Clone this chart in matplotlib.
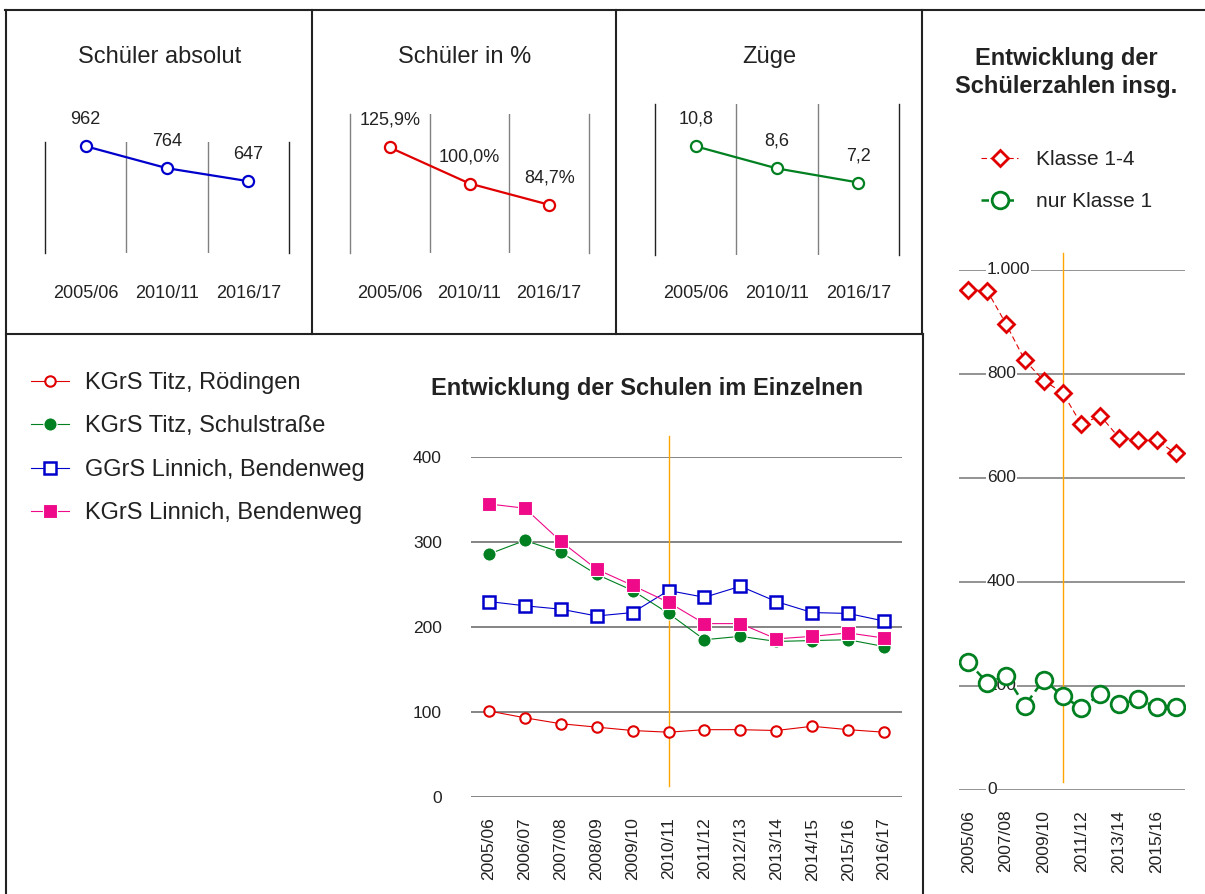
import matplotlib
matplotlib.use("Agg")
import matplotlib.pyplot as plt
from matplotlib.lines import Line2D

plt.rcParams['font.family'] = ['Liberation Sans', 'DejaVu Sans']
plt.rcParams['text.color'] = '#222222'
plt.rcParams['xtick.color'] = '#222222'
plt.rcParams['ytick.color'] = '#222222'

# Schuljahre
years = ['2005/06', '2006/07', '2007/08', '2008/09', '2009/10', '2010/11',
         '2011/12', '2012/13', '2013/14', '2014/15', '2015/16', '2016/17']

# Schulen im Einzelnen
schools = ['KGrS Titz, Rödingen', 'KGrS Titz, Schulstraße',
           'GGrS Linnich, Bendenweg', 'KGrS Linnich, Bendenweg']
roedingen = [101, 93, 86, 82, 78, 76, 79, 79, 78, 83, 79, 76]
schulstrasse = [286, 302, 288, 262, 243, 216, 185, 189, 183, 184, 185, 177]
ggrs_linnich = [230, 225, 221, 213, 217, 243, 235, 248, 230, 217, 216, 207]
kgrs_linnich = [345, 340, 301, 268, 249, 229, 204, 204, 186, 189, 193, 187]

# Schülerzahlen insgesamt
klasse_1_4 = [962, 960, 896, 826, 787, 764, 703, 720, 677, 673, 673, 647]
nur_klasse_1 = [245, 206, 219, 162, 212, 180, 157, 184, 164, 174, 159, 159]

# Kennzahlen oben
key_years = ['2005/06', '2010/11', '2016/17']
schueler_abs = [962, 764, 647]
schueler_pct = [125.9, 100.0, 84.7]
zuege = [10.8, 8.6, 7.2]

ref_year = '2010/11'

W, H = 1205, 894
fig = plt.figure(figsize=(W / 100, H / 100), dpi=100)


def box(l, t, r, b):
    return [l / W, 1 - b / H, (r - l) / W, (b - t) / H]


def fline(x0, y0, x1, y1):
    fig.add_artist(Line2D([x0 / W, x1 / W], [1 - y0 / H, 1 - y1 / H],
                          transform=fig.transFigure, color='#222222', lw=1.5))


# Rahmen
fline(5, 10, 1205, 10)
fline(6, 10, 6, 894)
fline(312, 10, 312, 334)
fline(616, 10, 616, 334)
fline(922, 10, 922, 334)
fline(923, 334, 923, 894)
fline(6, 334, 923, 334)


# --- drei kleine Diagramme oben ---
def small_panel(rect, values, labels, ylim, color, title, title_x, pad, spine_color):
    ax = fig.add_axes(box(*rect))
    x = range(len(values))
    ax.plot(x, values, color=color, lw=1.6, marker='o', ms=8, mfc='white',
            mec=color, mew=1.6, clip_on=False)
    for i, (v, lab) in enumerate(zip(values, labels)):
        ax.annotate(lab, (i, v), xytext=(0, 27), textcoords='offset pixels',
                    ha='center', va='center', fontsize=13)
    ax.set_xlim(-0.5, 2.5)
    ax.set_ylim(*ylim)
    ax.set_yticks([])
    ax.set_xticks(list(x))
    ax.set_xticklabels(key_years, fontsize=13)
    ax.set_xticks([0.5, 1.5], minor=True)
    ax.tick_params(axis='x', which='both', length=0, pad=pad)
    ax.grid(axis='x', which='minor', color='#808080', lw=1)
    for s in ['top', 'bottom']:
        ax.spines[s].set_visible(False)
    for s in ['left', 'right']:
        ax.spines[s].set_color(spine_color)
        ax.spines[s].set_linewidth(1)
    ax.patch.set_alpha(0)
    fig.text(title_x / W, 1 - 57 / H, title, ha='center', va='center', fontsize=17)
    return ax


small_panel((45, 142, 289, 253), schueler_abs, [str(v) for v in schueler_abs],
            (0, 1000), '#0000CC', 'Schüler absolut', 160, 23, '#222222')
small_panel((350, 114, 589, 253), schueler_pct,
            [f'{v:.1f}%'.replace('.', ',') for v in schueler_pct],
            (50, 150), '#E00000', 'Schüler in %', 465, 23, '#808080')
small_panel((655, 104, 899, 255), zuege, [f'{v:.1f}'.replace('.', ',') for v in zuege],
            (0, 15), '#008020', 'Züge', 769, 21.5, '#222222')

# --- Entwicklung der Schulen im Einzelnen ---
ax = fig.add_axes(box(471, 457.3, 902, 796.7))
x = range(len(years))
ax.plot(x, roedingen, color='#E00000', lw=0.8, marker='o', ms=7.5,
        mfc='white', mec='#E00000', mew=1.5, label=schools[0])
ax.plot(x, schulstrasse, color='#008020', lw=0.8, marker='o', ms=9.5,
        mfc='#008020', mec='white', mew=0.8, label=schools[1])
ax.plot(x, ggrs_linnich, color='#0000CC', lw=0.8, marker='s', ms=8.5,
        mfc='white', mec='#0000CC', mew=1.8, label=schools[2])
ax.plot(x, kgrs_linnich, color='#EE0A88', lw=0.8, marker='s', ms=10,
        mfc='#EE0A88', mec='white', mew=0.8, label=schools[3])
ref_i = years.index(ref_year)
ax.plot([ref_i, ref_i], [13, 425], color='#FFA500', lw=1, clip_on=False, zorder=1)
ax.set_xlim(-0.5, 11.5)
ax.set_ylim(0, 400)
ax.set_yticks([0, 100, 200, 300, 400])
ax.set_xticks(list(x))
ax.set_xticklabels(years, rotation=90, fontsize=12.5)
ax.tick_params(axis='y', length=0, pad=21, labelsize=12.5)
ax.tick_params(axis='x', length=0, pad=15)
ax.grid(axis='y', color='#707070', lw=1.2)
ax.set_axisbelow(True)
for s in ax.spines.values():
    s.set_visible(False)
ax.patch.set_alpha(0)
fig.text(647 / W, 1 - 388 / H, 'Entwicklung der Schulen im Einzelnen',
         ha='center', va='center', fontsize=17, fontweight='bold')
fig.legend(handles=ax.get_lines()[:4], labels=schools, loc='upper left',
           bbox_to_anchor=(31 / W, 1 - 372 / H), frameon=False, fontsize=17,
           handlelength=1.6, handletextpad=0.7, labelspacing=0.91,
           borderpad=0, borderaxespad=0)

# --- Entwicklung der Schülerzahlen insgesamt ---
axr = fig.add_axes(box(959, 270, 1185, 789.7))
l1, = axr.plot(x, klasse_1_4, color='#E00000', lw=0.8, ls=(0, (5, 3)),
               marker='D', ms=8.5, mfc='white', mec='#E00000', mew=2,
               label='Klasse 1-4', zorder=3)
l2, = axr.plot(x, nur_klasse_1, color='#008020', lw=1.8, ls=(0, (3, 2)),
               marker='o', ms=12, mfc='white', mec='#008020', mew=2,
               label='nur Klasse 1', zorder=3)
axr.plot([ref_i, ref_i], [15, 1033], color='#FFA500', lw=1, clip_on=False, zorder=1)
axr.set_xlim(-0.5, 11.5)
axr.set_ylim(0, 1000)
right_ticks = [0, 200, 400, 600, 800, 1000]
axr.set_yticks(right_ticks)
axr.set_yticklabels([])
for v in right_ticks:
    axr.text(0.124, v, f'{v:,}'.replace(',', '.'), transform=axr.get_yaxis_transform(),
             ha='left', va='center', fontsize=12.5, zorder=2.5,
             bbox=dict(facecolor='white', edgecolor='none', pad=0.5))
axr.set_xticks(list(x)[::2])
axr.set_xticklabels(years[::2], rotation=90, fontsize=12.5)
axr.tick_params(axis='both', length=0)
axr.tick_params(axis='x', pad=14.5)
axr.grid(axis='y', color='#808080', lw=1.2)
axr.set_axisbelow(True)
for s in axr.spines.values():
    s.set_visible(False)
axr.patch.set_alpha(0)
fig.text(1066 / W, 1 - 58 / H, 'Entwicklung der', ha='center', va='center',
         fontsize=17, fontweight='bold')
fig.text(1066 / W, 1 - 86 / H, 'Schülerzahlen insg.', ha='center', va='center',
         fontsize=17, fontweight='bold')
fig.legend(handles=[l1, l2], loc='upper left', bbox_to_anchor=(981 / W, 1 - 150 / H),
           frameon=False, fontsize=15, handlelength=1.78, handletextpad=0.87,
           labelspacing=1.1, borderpad=0, borderaxespad=0)

fig.savefig('out.png', dpi=100, facecolor='white')
